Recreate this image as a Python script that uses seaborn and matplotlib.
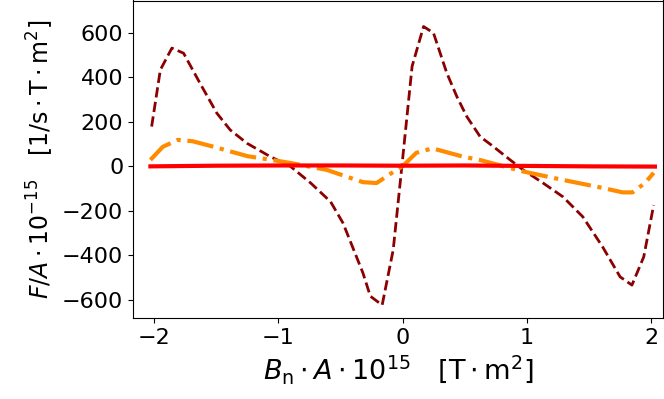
import numpy as np
import pandas as pd
import matplotlib
matplotlib.use("Agg")
import matplotlib.pyplot as plt
import seaborn as sns

# dark red dashed series
x_dark = [-2.02, -1.95, -1.857, -1.763, -1.63, -1.495, -1.388, -1.253, -1.066, -0.905,
          -0.74, -0.58, -0.48, -0.32, -0.26, -0.165, -0.076, -0.02, 0.076, 0.168, 0.248,
          0.355, 0.436, 0.516, 0.623, 0.73, 0.865, 0.97, 1.13, 1.29, 1.45, 1.61, 1.75,
          1.845, 1.94, 2.02]
y_dark = [178, 433, 531, 508, 372, 238, 163, 103, 43, 0,
          -76, -160, -256, -480, -585, -625, -376, -75, 449, 628, 599,
          419, 313, 223, 133, 88, 28, -17, -76, -138, -228, -364, -498,
          -535, -408, -175]

# orange dash-dot series
x_orange = [-2.03, -1.93, -1.81, -1.69, -1.52, -1.25, -1.01, -0.9, -0.61, -0.32, -0.21,
            -0.1, 0.0, 0.11, 0.24, 0.49, 0.62, 0.97, 1.29, 1.61, 1.77, 1.85, 1.95, 2.02]
y_orange = [28, 87, 118, 112, 87, 45, 24, 14, -17, -72, -76,
            -35, 0, 60, 80, 42, 28, -24, -62, -98, -118, -118, -76, -30]

# red solid series
x_red = [-2.03, -1.5, -1.0, -0.5, 0.0, 0.5, 1.0, 1.5, 2.03]
y_red = [-1, 2, 3, 3, 2, 3, 1, -1, -2]

fig = plt.figure(figsize=(6.64, 3.99), dpi=100)
ax = fig.add_axes([133 / 664, 1 - 318 / 399, (663 - 133) / 664, (318 - 0.5) / 399])

sns.lineplot(x=x_dark, y=y_dark, ax=ax, color="darkred", linestyle="--", linewidth=2, sort=False)
sns.lineplot(x=x_orange, y=y_orange, ax=ax, color="darkorange", linestyle="-.", linewidth=3, sort=False)
sns.lineplot(x=x_red, y=y_red, ax=ax, color="red", linestyle="-", linewidth=3, sort=False)

ax.set_xlim(-2.17, 2.095)
ax.set_ylim(-683, 745)
ax.set_xticks([-2, -1, 0, 1, 2])
ax.set_yticks([-600, -400, -200, 0, 200, 400, 600])
ax.tick_params(labelsize=16)
ax.set_xlabel(r"$B_\mathrm{n}\cdot A\cdot 10^{15}\quad[\mathrm{T}\cdot\mathrm{m}^2]$", fontsize=19.5)
ax.set_ylabel(r"$F/A\cdot 10^{-15}\quad[1/\mathrm{s}\cdot\mathrm{T}\cdot\mathrm{m}^2]$", fontsize=17)

fig.savefig("out.png", dpi=100)
